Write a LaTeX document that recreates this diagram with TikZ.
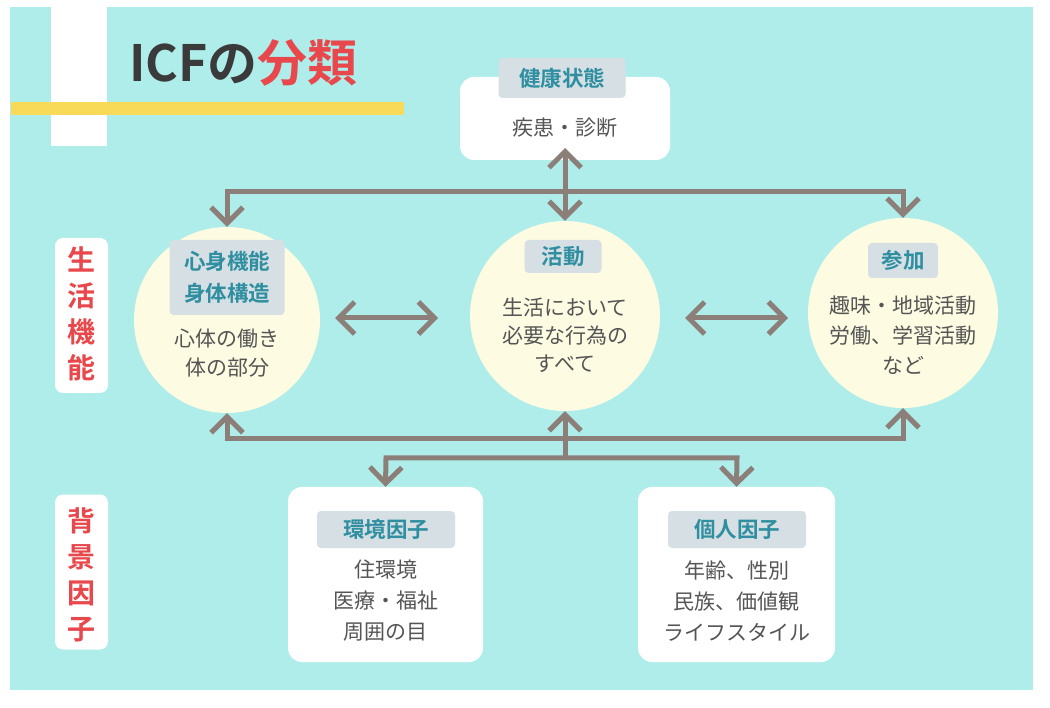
\documentclass[tikz,border=0pt]{standalone}
\usepackage{fontspec}
\setmainfont{Noto Sans CJK JP}[BoldFont={Noto Sans CJK JP Bold}]
\usetikzlibrary{arrows.meta}
\definecolor{bgc}{HTML}{AEEDEA}
\definecolor{yel}{HTML}{F9DA58}
\definecolor{circc}{HTML}{FDFBE2}
\definecolor{tagc}{HTML}{D5DFE4}
\definecolor{tagt}{HTML}{2F8FA0}
\definecolor{bodyt}{HTML}{555555}
\definecolor{arrc}{HTML}{8C7F7A}
\definecolor{redt}{HTML}{E8474B}
\definecolor{darkt}{HTML}{3A3A3A}
\tikzset{
  wbox/.style={fill=white, rounded corners=14pt, inner sep=0pt},
  circ/.style={circle, fill=circc, minimum size=186pt, inner sep=0pt},
  tagbox/.style={fill=tagc, rounded corners=4pt, inner sep=0pt, text=tagt, align=center,
    font=\bfseries\fontsize{21.5}{32}\selectfont},
  bodytext/.style={text=bodyt, align=center, inner sep=0pt, font=\fontsize{21}{29.5}\selectfont},
  sidebox/.style={fill=white, rounded corners=8pt, inner sep=0pt, minimum width=53pt},
  sidetext/.style={text=redt, align=center, inner sep=0pt, font=\bfseries\fontsize{28}{36}\selectfont},
  conn/.style={draw=arrc, line width=5pt, line join=miter,
    arrows={Straight Barb[length=16pt,width=32pt]-Straight Barb[length=16pt,width=32pt]}},
  conn1/.style={draw=arrc, line width=5pt, line join=miter,
    arrows={-Straight Barb[length=16pt,width=32pt]}}
}
\begin{document}
\begin{tikzpicture}[x=1pt,y=-1pt]
\useasboundingbox (0,0) rectangle (1050,708);
\fill[white] (0,0) rectangle (1050,708);
\fill[bgc] (10,7) rectangle (1033,690);
\fill[white] (51,7) rectangle (107,146);
\fill[yel] (11,102) rectangle (404,115);
\node[anchor=base west, inner sep=0pt, font=\bfseries\fontsize{50}{50}\selectfont] (title) at (129,82)
  {\textcolor{darkt}{ICFの}\textcolor{redt}{分類}};

% side labels
\node[sidebox, minimum height=155pt] (sb1) at (81.5,315.5) {};
\node[sidetext] (st1) at (81.5,314) {生\\活\\機\\能};
\node[sidebox, minimum height=155pt] (sb2) at (81.5,572) {};
\node[sidetext] (st2) at (81.5,575) {背\\景\\因\\子};

% health
\node[wbox, minimum width=210pt, minimum height=83pt] (health) at (565,118.5) {};
\node[tagbox, minimum width=127pt, minimum height=40pt] (htag) at (562,78) {健康状態};
\node[bodytext] (htext) at (565,128) {疾患・診断};

% circles
\node[circ] (body) at (227,320) {};
\node[circ, minimum size=190pt] (act) at (565,316) {};
\node[circ, minimum size=190pt] (part) at (903,313) {};

\node[tagbox, minimum width=115pt, minimum height=75pt] (btag) at (227,277.5) {心身機能\\身体構造};
\node[bodytext] (btext) at (227,353) {心体の働き\\体の部分};
\node[tagbox, minimum width=77pt, minimum height=33pt] (atag) at (563,256.5) {活動};
\node[bodytext, font=\fontsize{21}{28}\selectfont] (atext) at (565,335) {生活において\\必要な行為の\\すべて};
\node[tagbox, minimum width=70pt, minimum height=35pt] (ptag) at (903,260.5) {参加};
\node[bodytext, font=\fontsize{21}{30}\selectfont] (ptext) at (903,335) {趣味・地域活動\\労働、学習活動\\など};

% bottom boxes
\node[wbox, minimum width=195pt, minimum height=175pt] (env) at (385.5,574.5) {};
\node[tagbox, minimum width=138pt, minimum height=37pt] (etag) at (386,529.5) {環境因子};
\node[bodytext, font=\fontsize{21}{31}\selectfont] (etext) at (385.5,601) {住環境\\医療・福祉\\周囲の目};
\node[wbox, minimum width=197pt, minimum height=175pt] (pers) at (736.5,574.5) {};
\node[tagbox, minimum width=138pt, minimum height=37pt] (ptag2) at (737,529.5) {個人因子};
\node[bodytext, font=\fontsize{21}{31}\selectfont] (ptext2) at (736.5,601) {年齢、性別\\民族、価値観\\ライフスタイル};

% coordinates
\coordinate (hT) at (565,148);
\coordinate (tL) at (227,192);
\coordinate (tR) at (903,192);
\coordinate (bL) at (227,439);
\coordinate (bR) at (903,439);
\coordinate (jB) at (565,458);
\coordinate (eJ) at (386,458);
\coordinate (pJ) at (737,458);
\coordinate (h1a) at (335,318);
\coordinate (h1b) at (438,318);
\coordinate (h2a) at (685,318);
\coordinate (h2b) at (788,318);

% connectors
\draw[conn] (hT) -- (act.north);
\draw[conn] (body.north) -- (tL) -- (tR) -- (part.north);
\draw[conn] (body.south) -- (bL) -- (bR) -- (part.south);
\draw[conn1] (jB) -- (act.south);
\draw[conn] (env.north) -- (eJ) -- (pJ) -- (pers.north);
\draw[conn] (h1a) -- (h1b);
\draw[conn] (h2a) -- (h2b);
\end{tikzpicture}
\end{document}
